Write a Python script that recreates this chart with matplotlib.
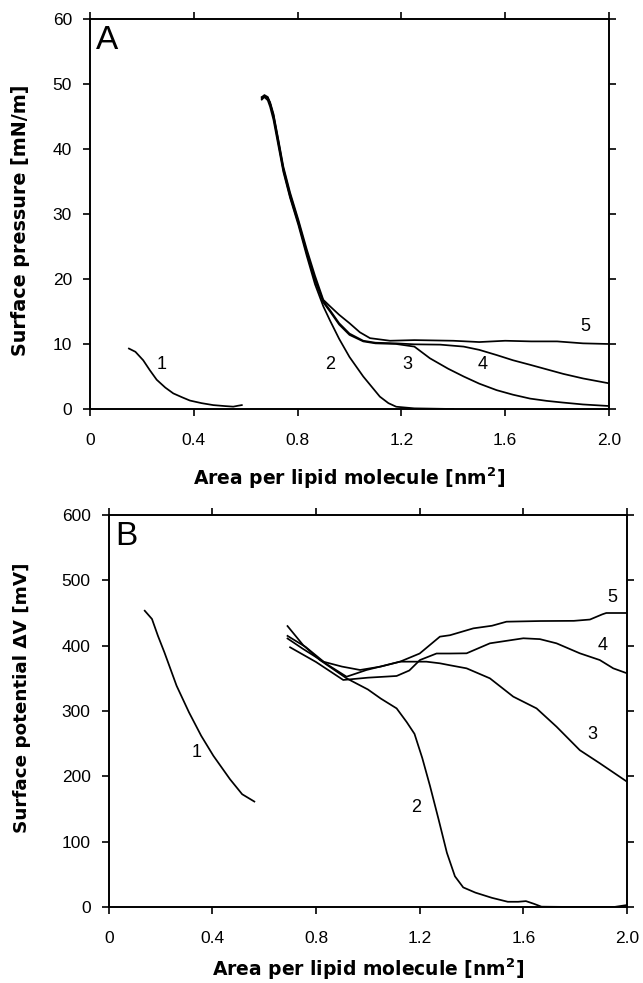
import matplotlib
matplotlib.use("Agg")
import matplotlib.pyplot as plt

plt.rcParams['font.family'] = ['Liberation Sans', 'DejaVu Sans']

# ---------------- Panel A data: surface pressure (mN/m) ----------------
A1_x = [0.150, 0.175, 0.205, 0.230, 0.257, 0.290, 0.321, 0.355, 0.385, 0.430, 0.475, 0.520, 0.552, 0.570, 0.585]
A1_y = [9.3, 8.8, 7.5, 6.0, 4.5, 3.3, 2.4, 1.8, 1.3, 0.9, 0.6, 0.45, 0.36, 0.5, 0.6]

A2_x = [0.662, 0.672, 0.685, 0.694, 0.707, 0.726, 0.745, 0.771, 0.803, 0.835, 0.867, 0.899, 0.925,
        0.960, 1.000, 1.053, 1.117, 1.150, 1.180, 1.250, 1.400]
A2_y = [47.6, 48.0, 47.5, 46.5, 44.5, 40.5, 36.5, 32.5, 28.3, 23.6, 19.2, 15.8, 13.6,
        10.8, 8.0, 5.0, 1.9, 0.9, 0.35, 0.1, 0.0]

A3_x = [0.662, 0.672, 0.685, 0.694, 0.707, 0.726, 0.745, 0.771, 0.803, 0.835, 0.867, 0.899, 0.925,
        0.960, 1.000, 1.053, 1.100, 1.180, 1.250, 1.310, 1.380, 1.440, 1.500, 1.567, 1.630, 1.696,
        1.760, 1.820, 1.900, 2.000]
A3_y = [47.9, 48.3, 48.0, 47.0, 45.0, 40.9, 36.8, 32.7, 28.6, 24.0, 19.8, 16.4, 15.0,
        13.0, 11.4, 10.4, 10.1, 10.0, 9.6, 7.8, 6.2, 5.0, 3.9, 2.9, 2.2, 1.6,
        1.25, 1.0, 0.7, 0.46]

A4_x = [0.662, 0.672, 0.685, 0.694, 0.707, 0.726, 0.745, 0.771, 0.803, 0.835, 0.867, 0.899, 0.925,
        0.960, 1.000, 1.053, 1.100, 1.180, 1.250, 1.350, 1.440, 1.500, 1.567, 1.630, 1.696, 1.760,
        1.824, 1.900, 2.000]
A4_y = [48.0, 48.2, 47.8, 47.0, 45.2, 41.2, 37.0, 33.0, 28.8, 24.2, 20.0, 16.6, 15.2,
        13.2, 11.6, 10.5, 10.2, 10.1, 9.95, 9.9, 9.6, 9.1, 8.3, 7.5, 6.8, 6.1,
        5.4, 4.7, 3.95]

A5_x = [0.662, 0.672, 0.685, 0.694, 0.707, 0.726, 0.745, 0.771, 0.803, 0.835, 0.867, 0.899, 0.925,
        0.960, 1.000, 1.040, 1.079, 1.156, 1.250, 1.400, 1.500, 1.600, 1.700, 1.800, 1.900, 2.000]
A5_y = [47.8, 48.1, 47.9, 47.2, 45.4, 41.4, 37.3, 33.3, 29.1, 24.6, 20.5, 16.8, 15.8,
        14.5, 13.2, 11.8, 10.9, 10.5, 10.6, 10.5, 10.3, 10.5, 10.4, 10.4, 10.1, 10.0]

A_labels = ["1", "2", "3", "4", "5"]
A_label_x = [0.276, 0.925, 1.223, 1.513, 1.907]
A_label_y = [6.8, 6.8, 6.8, 6.8, 12.7]

# ---------------- Panel B data: surface potential (mV) ----------------
B1_x = [0.139, 0.167, 0.190, 0.215, 0.262, 0.310, 0.357, 0.404, 0.468, 0.515, 0.562]
B1_y = [453.5, 440.8, 415.0, 389.7, 338.6, 297.8, 262.0, 231.4, 195.6, 172.6, 161.4]

B2_x = [0.690, 0.750, 0.815, 0.918, 1.000, 1.050, 1.111, 1.150, 1.180, 1.210, 1.240, 1.273, 1.305,
        1.336, 1.368, 1.415, 1.479, 1.540, 1.580, 1.610, 1.640, 1.670, 1.800, 1.950, 2.000]
B2_y = [430, 401, 378, 350, 333, 319, 304, 283, 265, 228, 185, 134, 83,
        47, 30, 22, 14, 8, 8, 9, 5, 0.5, 0, 0, 3]

B3_x = [0.690, 0.750, 0.828, 0.900, 0.970, 1.050, 1.124, 1.226, 1.278, 1.317, 1.381, 1.471, 1.561,
        1.651, 1.728, 1.818, 1.895, 2.000]
B3_y = [411, 395, 375.5, 368, 362.8, 368, 375.5, 375.5, 373, 370, 365.3, 350, 322,
        304, 276, 240, 220, 191.8]

B4_x = [0.700, 0.800, 0.905, 1.000, 1.111, 1.160, 1.201, 1.265, 1.317, 1.381, 1.471, 1.600, 1.664,
        1.728, 1.818, 1.895, 1.947, 2.000]
B4_y = [397.5, 375, 347.5, 351, 353.6, 362, 378, 388, 388, 388.3, 403.6, 411.3, 410,
        403.6, 388.3, 378, 365.3, 357.7]

B5_x = [0.690, 0.760, 0.840, 0.918, 0.995, 1.124, 1.200, 1.278, 1.317, 1.407, 1.479, 1.535, 1.664,
        1.795, 1.857, 1.905, 1.920, 2.000]
B5_y = [415, 398, 372, 352.5, 362.8, 375.5, 388, 413.8, 416, 426.5, 430.5, 436.7, 437.7,
        438, 440, 448, 450, 450]

B_labels = ["1", "2", "3", "4", "5"]
B_label_x = [0.341, 1.186, 1.866, 1.905, 1.945]
B_label_y = [236.5, 152, 264.5, 400, 474]

x_ticks = [0, 0.4, 0.8, 1.2, 1.6, 2.0]
x_ticklabels = ["0", "0.4", "0.8", "1.2", "1.6", "2.0"]
A_yticks = [0, 10, 20, 30, 40, 50, 60]
B_yticks = [0, 100, 200, 300, 400, 500, 600]

xlabel_text = "Area per lipid molecule [nm$^\\mathbf{2}$]"
A_ylabel = "Surface pressure [mN/m]"
B_ylabel = "Surface potential \u0394V [mV]"

# ---------------- Figure ----------------
W, H = 643, 983
fig = plt.figure(figsize=(W / 100, H / 100), dpi=100)

AX_A = (90, 609, 19, 409)
AX_B = (108.7, 627, 515, 907)

def px_axes(l, r, t, b):
    return fig.add_axes([l / W, 1 - b / H, (r - l) / W, (b - t) / H])

axA = px_axes(*AX_A)
axB = px_axes(*AX_B)

lw = 1.25
tick_font = 12.5

def style(ax, yticks, ymax):
    ax.set_xlim(0, 2.0)
    ax.set_ylim(0, ymax)
    ax.set_xticks(x_ticks)
    ax.set_xticklabels(x_ticklabels)
    ax.set_yticks(yticks)
    ax.tick_params(direction='out', length=5, width=1.2, labelsize=tick_font,
                   top=True, right=True, labeltop=False, labelright=False)
    ax.tick_params(axis='x', pad=12)
    ax.tick_params(axis='y', pad=8)
    for s in ax.spines.values():
        s.set_linewidth(1.4)

def place_labels(ax, box, xlab, ylab, xlab_y_px, ylab_x_px, ylab_y_px, xsize, ysize):
    l, r, t, b = box
    ax.set_xlabel(xlab, fontsize=xsize, fontweight='bold', family='DejaVu Sans')
    ax.set_ylabel(ylab, fontsize=ysize, fontweight='bold', family='DejaVu Sans')
    ax.xaxis.label.set_va('center')
    ax.yaxis.label.set_va('center')
    ax.xaxis.set_label_coords(0.5, (b - xlab_y_px) / (b - t))
    ax.yaxis.set_label_coords((ylab_x_px - l) / (r - l), (b - ylab_y_px) / (b - t))

# Panel A
for xs, ys in [(A1_x, A1_y), (A2_x, A2_y), (A3_x, A3_y), (A4_x, A4_y), (A5_x, A5_y)]:
    axA.plot(xs, ys, color='black', lw=lw, solid_joinstyle='round')
for t, x, y in zip(A_labels, A_label_x, A_label_y):
    axA.text(x, y, t, fontsize=13, ha='center', va='center')
style(axA, A_yticks, 60)
axA.text(0.012, 0.985, "A", transform=axA.transAxes, fontsize=24, ha='left', va='top')
place_labels(axA, AX_A, xlabel_text, A_ylabel, 478, 21, 220, 13.5, 13.8)

# Panel B
for xs, ys in [(B1_x, B1_y), (B2_x, B2_y), (B3_x, B3_y), (B4_x, B4_y), (B5_x, B5_y)]:
    axB.plot(xs, ys, color='black', lw=lw, solid_joinstyle='round')
for t, x, y in zip(B_labels, B_label_x, B_label_y):
    axB.text(x, y, t, fontsize=13, ha='center', va='center')
style(axB, B_yticks, 600)
axB.text(0.012, 0.985, "B", transform=axB.transAxes, fontsize=24, ha='left', va='top')
place_labels(axB, AX_B, xlabel_text, B_ylabel, 969, 22, 698, 13.5, 13.2)

fig.savefig("out.png", dpi=100)
